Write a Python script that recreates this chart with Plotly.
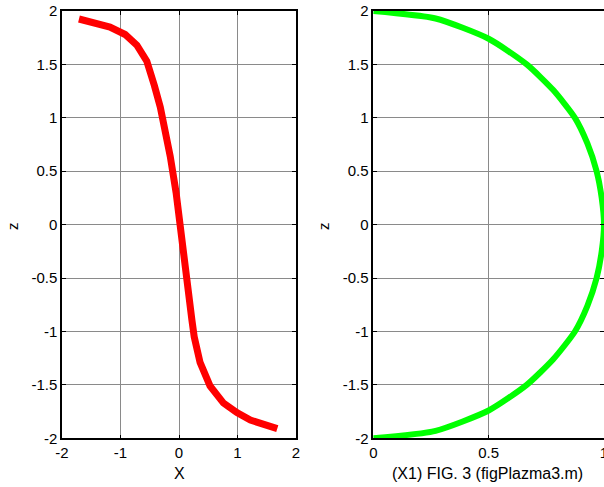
import plotly.graph_objects as go

# Left panel (red curve)
x_left = [-1.71, -1.18, -0.92, -0.72, -0.55, -0.47, -0.42, -0.32, -0.24, -0.15, -0.05, 0.02,
          0.05, 0.11, 0.22, 0.26, 0.36, 0.53, 0.76, 0.99, 1.22, 1.68]
z_left = [1.925, 1.85, 1.78, 1.68, 1.53, 1.40, 1.30, 1.10, 0.90, 0.64, 0.30, -0.02,
          -0.23, -0.48, -0.89, -1.05, -1.29, -1.51, -1.67, -1.76, -1.83, -1.91]

# Right panel (green curve)
x_right = [0.0, 0.27, 0.5, 0.665, 0.78, 0.874, 0.928, 0.968, 0.99, 1.0,
           0.99, 0.968, 0.928, 0.874, 0.78, 0.665, 0.5, 0.27, 0.0]
z_right = [2.0, 1.93, 1.74, 1.5, 1.26, 1.0, 0.76, 0.5, 0.25, 0.0,
           -0.25, -0.5, -0.76, -1.0, -1.26, -1.5, -1.74, -1.93, -2.0]

x_left_ticks = [-2, -1, 0, 1, 2]
x_right_ticks = [0, 0.5, 1]
z_ticks = [-2, -1.5, -1, -0.5, 0, 0.5, 1, 1.5, 2]

def lbl(v):
    return "%g" % v

W, H = 604, 487
fig = go.Figure()
fig.add_trace(go.Scatter(x=x_left, y=z_left, mode="lines",
                         line=dict(color="#ff0000", width=7), xaxis="x", yaxis="y",
                         showlegend=False))
fig.add_trace(go.Scatter(x=x_right, y=z_right, mode="lines",
                         line=dict(color="#00ff00", width=6, shape="spline", smoothing=0.6),
                         xaxis="x2", yaxis="y2",
                         showlegend=False, cliponaxis=False))

font = dict(family="Liberation Sans, Arial, sans-serif", size=15, color="#000")
font_t = dict(family="Liberation Sans, Arial, sans-serif", size=16, color="#000")
ydom = [1 - 438.3 / H, 1 - 11 / H]
common = dict(showline=True, linecolor="#000", linewidth=1.5, mirror="ticks",
              ticks="inside", ticklen=4, tickcolor="#000", tickwidth=1,
              showgrid=True, gridcolor="#8a8a8a", gridwidth=1,
              zeroline=False, tickfont=font, automargin=False)

fig.update_layout(
    template="none",
    width=W, height=H,
    margin=dict(l=0, r=0, t=0, b=0, pad=0, autoexpand=False),
    paper_bgcolor="white", plot_bgcolor="white",
    xaxis=dict(domain=[62 / W, 296 / W], range=[-2, 2], anchor="y",
               tickvals=x_left_ticks, ticktext=[lbl(v) for v in x_left_ticks], **common),
    yaxis=dict(domain=ydom, range=[-2, 2], anchor="x",
               tickvals=z_ticks, ticktext=[lbl(v) for v in z_ticks], **common),
    xaxis2=dict(domain=[373.3 / W, 604 / W], range=[0, 1], anchor="y2",
                ticklabeloverflow="allow",
                tickvals=x_right_ticks, ticktext=[lbl(v) for v in x_right_ticks], **common),
    yaxis2=dict(domain=ydom, range=[-2, 2], anchor="x2",
                tickvals=z_ticks, ticktext=[lbl(v) for v in z_ticks], **common),
    annotations=[
        dict(text="z", x=12 / W, y=1 - 226 / H, xref="paper", yref="paper",
             xanchor="center", yanchor="middle",
             showarrow=False, textangle=-90, font=font),
        dict(text="z", x=323 / W, y=1 - 226 / H, xref="paper", yref="paper",
             xanchor="center", yanchor="middle",
             showarrow=False, textangle=-90, font=font),
        dict(text="X", x=179 / W, y=1 - 473 / H, xref="paper", yref="paper",
             xanchor="center", yanchor="middle", showarrow=False, font=font_t),
        dict(text="(X1) FIG. 3 (figPlazma3.m)", x=487 / W, y=1 - 473 / H,
             xref="paper", yref="paper", xanchor="center", yanchor="middle",
             showarrow=False, font=font_t),
    ],
)

fig.write_html("out.html", config={"displayModeBar": False},
               post_script="document.body.style.margin='0';document.body.style.overflow='hidden';")
